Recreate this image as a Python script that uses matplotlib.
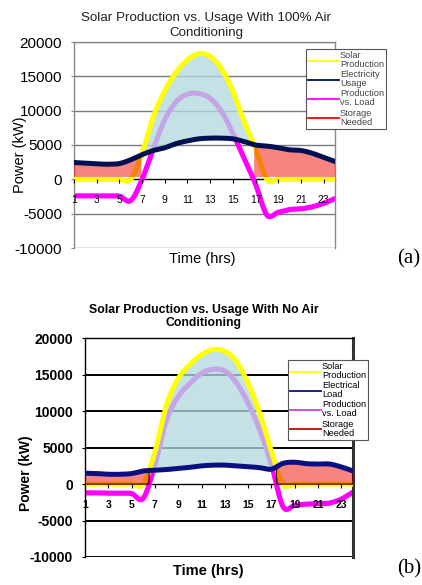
import numpy as np
import matplotlib
matplotlib.use("Agg")
import matplotlib.pyplot as plt
from matplotlib.lines import Line2D

plt.rcParams['font.family'] = ['Liberation Sans', 'DejaVu Sans']
plt.rcParams['axes.unicode_minus'] = False

# ---------------- data ----------------
hours = list(range(1, 25))
tick_hours = [1, 3, 5, 7, 9, 11, 13, 15, 17, 19, 21, 23]
y_ticks = [-10000, -5000, 0, 5000, 10000, 15000, 20000]

# (a) 100% air conditioning
solar_a = [0, 0, 0, 0, 0, 0, 3800, 9200, 12900, 15600, 17400, 18300,
           17900, 16100, 12800, 8400, 4500, 0, 0, 0, 0, 0, 0, 0]
usage_a = [2450, 2350, 2250, 2200, 2300, 2850, 3600, 4200, 4600, 5200, 5600, 5900,
           6000, 6000, 5900, 5500, 5000, 4850, 4600, 4300, 4200, 3800, 3200, 2600]
prod_a = [-2400, -2400, -2400, -2400, -2450, -3100, 0, 4500, 8700, 11300, 12400, 12500,
          11800, 9900, 6700, 3000, -700, -5200, -4800, -4400, -4300, -4000, -3500, -2800]

# (b) no air conditioning
solar_b = [0, 0, 0, 0, 0, 0, 4400, 10850, 14500, 16400, 17750, 18450,
           18200, 16800, 13800, 9700, 4500, 0, 0, 0, 0, 0, 0, 0]
usage_b = [1500, 1450, 1350, 1350, 1450, 1800, 1900, 2000, 2150, 2300, 2500, 2600,
           2600, 2500, 2400, 2250, 2050, 2850, 3000, 2800, 2750, 2750, 2350, 1800]
prod_b = [-1200, -1200, -1250, -1250, -1300, -1950, 2700, 8800, 12000, 13800, 15200, 15750,
          15500, 13900, 11100, 7400, 2700, -3100, -2900, -2750, -2700, -2600, -2050, -1100]

title_a = "Solar Production vs. Usage With 100% Air\nConditioning"
title_b = "Solar Production vs. Usage With No Air\nConditioning"
legend_a = ["Solar\nProduction", "Electricity\nUsage", "Production\nvs. Load", "Storage\nNeeded"]
legend_b = ["Solar\nProduction", "Electrical\nLoad", "Production\nvs. Load", "Storage\nNeeded"]


def smooth(x, y, n=16):
    """Excel-like smoothed line (Catmull-Rom) through the data points."""
    x = np.asarray(x, float)
    y = np.asarray(y, float)
    xp = np.concatenate([[2 * x[0] - x[1]], x, [2 * x[-1] - x[-2]]])
    yp = np.concatenate([[2 * y[0] - y[1]], y, [2 * y[-1] - y[-2]]])
    t = np.linspace(0, 1, n, endpoint=False)
    xs, ys = [], []
    for i in range(1, len(x)):
        for arr, out in ((xp, xs), (yp, ys)):
            p0, p1, p2, p3 = arr[i - 1], arr[i], arr[i + 1], arr[i + 2]
            out.append(0.5 * (2 * p1 + (-p0 + p2) * t
                              + (2 * p0 - 5 * p1 + 4 * p2 - p3) * t ** 2
                              + (-p0 + 3 * p1 - 3 * p2 + p3) * t ** 3))
    xs.append([x[-1]])
    ys.append([y[-1]])
    return np.concatenate(xs), np.concatenate(ys)


W, H = 422, 585
fig = plt.figure(figsize=(W / 100, H / 100), dpi=100)

CYAN = (178 / 255, 218 / 255, 222 / 255)


def panel(rect, solar, usage, prod, navy, grid_color, grid_lw, frame_color,
          bold, red_base, ytick_size, xtick_size, legend_labels, legend_pos,
          legend_color, red_edge):
    ax = fig.add_axes(rect)
    ax.set_xlim(1, 24)
    ax.set_ylim(-10000, 20000)
    ax.set_yticks(y_ticks)
    ax.set_xticks(tick_hours)
    ax.set_xticklabels([str(h) for h in tick_hours])
    for yv in y_ticks:
        if yv != 0:
            ax.axhline(yv, color=grid_color, lw=grid_lw, zorder=0.5)
    ax.xaxis.set_zorder(5)
    for s in ['left', 'right', 'top']:
        ax.spines[s].set_color(frame_color)
        ax.spines[s].set_linewidth(1.0)
    ax.spines['bottom'].set_position(('data', 0))
    ax.spines['bottom'].set_color('black')
    ax.spines['bottom'].set_linewidth(1.0)
    ax.spines['bottom'].set_zorder(1)
    ax.tick_params(axis='x', direction='out', length=3, width=0.8, pad=8.5,
                   labelsize=xtick_size)
    ax.tick_params(axis='y', direction='out', length=2.5, width=0.8, pad=6,
                   labelsize=ytick_size, color=frame_color)
    if bold:
        for lab in ax.get_xticklabels() + ax.get_yticklabels():
            lab.set_fontweight('bold')

    xs, sol_s = smooth(hours, solar)
    _, use_s = smooth(hours, usage)
    _, prod_s = smooth(hours, prod)

    ax.plot(xs, prod_s, color='#ff00ff', lw=3.7, zorder=2, solid_capstyle='round')
    ax.fill_between(xs, use_s, sol_s, where=sol_s >= use_s, interpolate=True,
                    color=CYAN, alpha=0.76, lw=0, zorder=2.3)
    ax.plot(xs, sol_s, color='#ffff00', lw=3.6, zorder=2.6, solid_capstyle='round')
    ax.fill_between(xs, red_base, use_s, where=sol_s < use_s,
                    facecolor=(0.94, 0.04, 0.0, 0.5),
                    edgecolor=red_edge, lw=0.9 if red_edge != 'none' else 0,
                    zorder=3)
    ax.plot(xs, use_s, color=navy, lw=3.6, zorder=4, solid_capstyle='round')

    handles = [Line2D([], [], color='#ffff00', lw=1.3),
               Line2D([], [], color=navy, lw=1.3),
               Line2D([], [], color='#ff00ff' if not bold else '#cc44cc', lw=1.3),
               Line2D([], [], color='#ff0000' if not bold else '#cc0000', lw=1.3)]
    leg = fig.legend(handles, legend_labels, loc='upper left',
                     bbox_to_anchor=legend_pos, fontsize=6.6, frameon=True,
                     fancybox=False, edgecolor='#555555', framealpha=1,
                     handlelength=3.3, handletextpad=0.15, labelspacing=0.12,
                     borderpad=0.25, borderaxespad=0)
    leg.get_frame().set_linewidth(0.8)
    for t in leg.get_texts():
        t.set_color(legend_color)
        t.set_linespacing(1.0)
    return ax


# ---------- panel (a) ----------
ax_a = panel([74 / W, 1 - 248 / H, 261 / W, 206 / H], solar_a, usage_a, prod_a,
             navy='#001050', grid_color='#7a7a7a', grid_lw=1.0, frame_color='#8a8a8a',
             bold=False, red_base=350, ytick_size=11, xtick_size=7.5,
             legend_labels=legend_a, legend_pos=(306 / W, 1 - 49 / H),
             legend_color='#444444', red_edge='none')
fig.text(206 / W, 1 - 25.7 / H, title_a, ha='center', va='center', fontsize=9.6,
         linespacing=1.3, color='#222222')
fig.text(20 / W, 1 - 155 / H, "Power (kW)", rotation=90, ha='center', va='center',
         fontsize=10.5)
fig.text(202 / W, 1 - 259 / H, "Time (hrs)", ha='center', va='center', fontsize=10.5)
fig.text(409 / W, 1 - 259 / H, "(a)", ha='center', va='center', fontsize=15,
         family=['Liberation Serif', 'DejaVu Serif'])

# ---------- panel (b) ----------
ax_b = panel([85 / W, 1 - 557 / H, 268 / W, 218.7 / H], solar_b, usage_b, prod_b,
             navy='#0a1080', grid_color='black', grid_lw=1.4, frame_color='black',
             bold=True, red_base=0, ytick_size=10, xtick_size=7.5,
             legend_labels=legend_b, legend_pos=(288 / W, 1 - 360 / H),
             legend_color='black', red_edge='#3a0010')
ax_b.spines['right'].set_linewidth(2.2)
ax_b.spines['right'].set_color('#333333')
fig.text(204 / W, 1 - 316.5 / H, title_b, ha='center', va='center', fontsize=8.8,
         fontweight='bold', linespacing=1.1)
fig.text(26 / W, 1 - 473 / H, "Power (kW)", rotation=90, ha='center', va='center',
         fontsize=10, fontweight='bold')
fig.text(208 / W, 1 - 571.5 / H, "Time (hrs)", ha='center', va='center', fontsize=10.5,
         fontweight='bold')
fig.text(409 / W, 1 - 569 / H, "(b)", ha='center', va='center', fontsize=15,
         family=['Liberation Serif', 'DejaVu Serif'])

fig.savefig("out.png", dpi=100)
